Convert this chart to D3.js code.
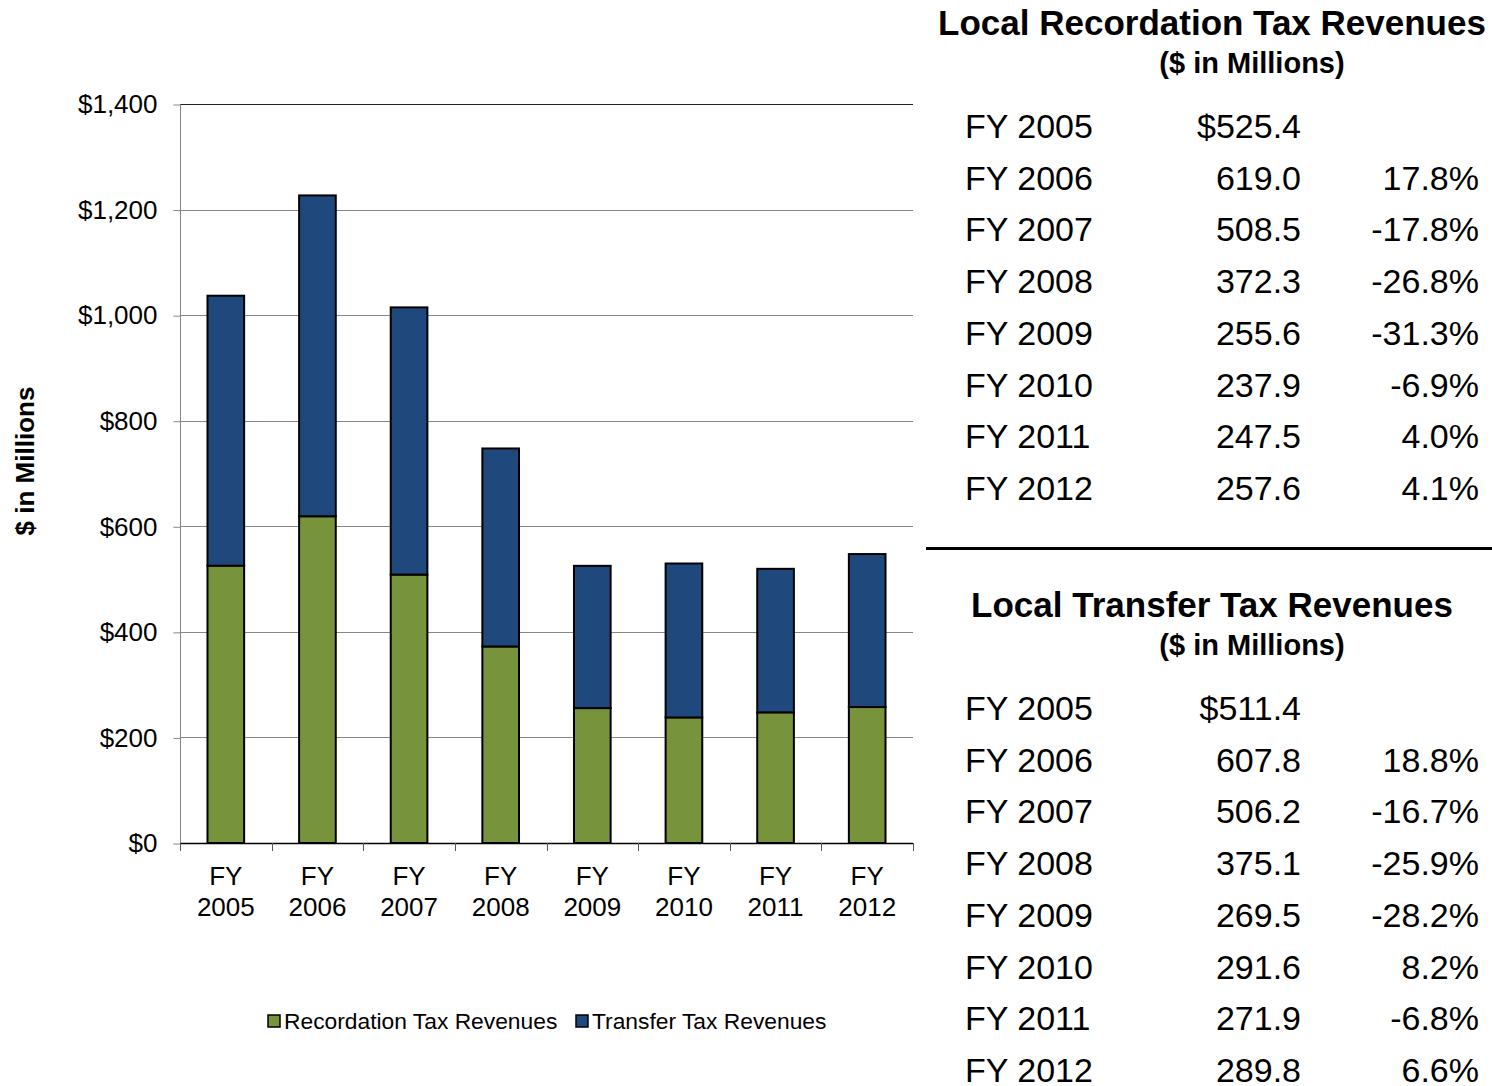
<!DOCTYPE html>
<html>
<head>
<meta charset="utf-8">
<script src="https://cdn.jsdelivr.net/npm/d3@7"></script>
<style>
  body { margin: 0; background: #fff; }
  text { font-family: "Liberation Sans", Arial, sans-serif; }
</style>
</head>
<body>
<div id="drawing"></div>
<script>
 // data
 var years = ["FY 2005", "FY 2006", "FY 2007", "FY 2008", "FY 2009", "FY 2010", "FY 2011", "FY 2012"];
 var recordation = [525.4, 619.0, 508.5, 372.3, 255.6, 237.9, 247.5, 257.6];
 var transfer = [511.4, 607.8, 506.2, 375.1, 269.5, 291.6, 271.9, 289.8];
 var recordationChange = ["", "17.8%", "-17.8%", "-26.8%", "-31.3%", "-6.9%", "4.0%", "4.1%"];
 var transferChange = ["", "18.8%", "-16.7%", "-25.9%", "-28.2%", "8.2%", "-6.8%", "6.6%"];
 var yTicks = [0, 200, 400, 600, 800, 1000, 1200, 1400];
 var seriesNames = ["Recordation Tax Revenues", "Transfer Tax Revenues"];
 var colors = ["#77933C", "#1F497D"];

 var width = 1492;
 var height = 1086;
 var plot = {left: 180, right: 913, top: 104, bottom: 843};

 var svg = d3.select("#drawing").append("svg")
   .attr("width", width)
   .attr("height", height)
   .style("display", "block");

 var xScale = d3.scaleBand()
   .domain(years)
   .range([plot.left, plot.right])
   .paddingInner(0.6)
   .paddingOuter(0.3);

 var yScale = d3.scaleLinear()
   .domain([0, 1400])
   .range([plot.bottom, plot.top]);

 // gridlines
 svg.append("g")
   .selectAll("line")
   .data(yTicks.filter(d => d > 0))
   .enter()
   .append("line")
   .attr("x1", plot.left)
   .attr("x2", plot.right)
   .attr("y1", d => Math.round(yScale(d)) + 0.5)
   .attr("y2", d => Math.round(yScale(d)) + 0.5)
   .style("stroke", d => d === 1400 ? "#222" : "#868686")
   .style("stroke-width", 1);

 // y axis
 var yAxis = svg.append("g")
   .attr("transform", `translate(${plot.left + 0.5}, 0.5)`)
   .call(d3.axisLeft(yScale)
     .tickValues(yTicks)
     .tickSize(7)
     .tickPadding(16)
     .tickFormat(d => "$" + d3.format(",")(d)));
 yAxis.select(".domain").style("stroke", "#868686").attr("d", `M0,${plot.top}V${plot.bottom}`);
 yAxis.selectAll(".tick line").style("stroke", "#868686");
 yAxis.selectAll("text")
   .style("font-size", "26px")
   .style("fill", "#000")
   .attr("font-family", null);

 // stacked bars
 var stackData = years.map((y, i) => ({year: y, rec: recordation[i], tr: transfer[i]}));
 var stacked = d3.stack().keys(["rec", "tr"])(stackData);

 svg.append("g")
   .selectAll("g")
   .data(stacked)
   .enter()
   .append("g")
   .style("fill", (d, i) => colors[i])
   .selectAll("rect")
   .data(d => d)
   .enter()
   .append("rect")
   .attr("x", d => xScale(d.data.year))
   .attr("y", d => yScale(d[1]))
   .attr("width", xScale.bandwidth())
   .attr("height", d => yScale(d[0]) - yScale(d[1]))
   .style("stroke", "#000")
   .style("stroke-width", 2);

 // x axis line and category boundary ticks
 var xAxis = svg.append("g");
 xAxis.append("line")
   .attr("x1", plot.left).attr("x2", plot.right)
   .attr("y1", plot.bottom + 0.5).attr("y2", plot.bottom + 0.5)
   .style("stroke", "#000").style("stroke-width", 1.5);
 var step = xScale.step();
 xAxis.selectAll(".xtick")
   .data(d3.range(years.length + 1))
   .enter()
   .append("line")
   .attr("class", "xtick")
   .attr("x1", i => Math.round(plot.left + i * step) + 0.5)
   .attr("x2", i => Math.round(plot.left + i * step) + 0.5)
   .attr("y1", plot.bottom)
   .attr("y2", plot.bottom + 8)
   .style("stroke", "#555");

 var xLabels = xAxis.selectAll(".xlabel")
   .data(years)
   .enter()
   .append("text")
   .attr("class", "xlabel")
   .attr("text-anchor", "middle")
   .style("font-size", "26px");
 xLabels.append("tspan")
   .attr("x", d => xScale(d) + xScale.bandwidth() / 2)
   .attr("y", 885)
   .text(d => d.split(" ")[0]);
 xLabels.append("tspan")
   .attr("x", d => xScale(d) + xScale.bandwidth() / 2)
   .attr("y", 916)
   .text(d => d.split(" ")[1]);

 // y axis title
 svg.append("text")
   .attr("transform", "translate(25, 461) rotate(-90)")
   .attr("text-anchor", "middle")
   .attr("dominant-baseline", "central")
   .style("font-size", "26px")
   .style("font-weight", "bold")
   .text("$ in Millions");

 // legend
 var legend = svg.append("g").attr("transform", "translate(268, 1021)");
 var legendX = [0, 308];
 seriesNames.forEach((name, i) => {
   var g = legend.append("g").attr("transform", `translate(${legendX[i]}, 0)`);
   g.append("rect")
     .attr("x", 0).attr("y", -6)
     .attr("width", 12).attr("height", 12)
     .style("fill", colors[i])
     .style("stroke", "#000")
     .style("stroke-width", 1.5);
   g.append("text")
     .attr("x", 16)
     .attr("dominant-baseline", "central")
     .style("font-size", "22.8px")
     .text(name);
 });

 // side tables
 function drawTable(top, title, values, changes) {
   var g = svg.append("g");
   g.append("text")
     .attr("x", 1212).attr("y", top)
     .attr("text-anchor", "middle")
     .attr("dominant-baseline", "central")
     .style("font-size", "35px").style("font-weight", "bold")
     .text(title);
   g.append("text")
     .attr("x", 1252).attr("y", top + 41)
     .attr("text-anchor", "middle")
     .attr("dominant-baseline", "central")
     .style("font-size", "29px").style("font-weight", "bold")
     .text("($ in Millions)");
   var rowY = d3.scaleLinear().domain([0, 7]).range([top + 104, top + 104 + 7 * 51.7]);
   var rows = g.selectAll(".row")
     .data(years)
     .enter()
     .append("g")
     .attr("transform", (d, i) => `translate(0, ${rowY(i)})`)
     .style("font-size", "34px");
   rows.append("text")
     .attr("x", 965)
     .attr("dominant-baseline", "central")
     .text(d => d);
   rows.append("text")
     .attr("x", 1301)
     .attr("text-anchor", "end")
     .attr("dominant-baseline", "central")
     .text((d, i) => (i === 0 ? "$" : "") + values[i].toFixed(1));
   rows.append("text")
     .attr("x", 1479)
     .attr("text-anchor", "end")
     .attr("dominant-baseline", "central")
     .text((d, i) => changes[i]);
 }

 drawTable(22, "Local Recordation Tax Revenues", recordation, recordationChange);

 svg.append("line")
   .attr("x1", 926).attr("x2", 1492)
   .attr("y1", 548.5).attr("y2", 548.5)
   .style("stroke", "#000").style("stroke-width", 3);

 drawTable(604, "Local Transfer Tax Revenues", transfer, transferChange);
</script>
</body>
</html>
